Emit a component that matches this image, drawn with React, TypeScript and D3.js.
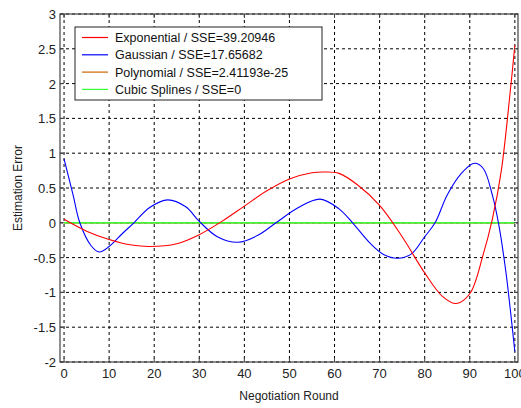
import React from "react";
import * as d3 from "d3";

const xTicks = [0, 10, 20, 30, 40, 50, 60, 70, 80, 90, 100];
const yTicks = [-2, -1.5, -1, -0.5, 0, 0.5, 1, 1.5, 2, 2.5, 3];
const yTickLabels = ["-2", "-1.5", "-1", "-0.5", "0", "0.5", "1", "1.5", "2", "2.5", "3"];

const expX = [0, 5, 10, 15, 19, 25, 30, 35, 40, 45, 50, 55, 58, 61, 65, 70, 75, 80, 84, 87, 90, 93, 95, 97, 99, 100];
const expY = [0.05, -0.12, -0.24, -0.32, -0.34, -0.3, -0.17, 0.02, 0.24, 0.46, 0.63, 0.72, 0.73, 0.71, 0.55, 0.25, -0.2, -0.72, -1.06, -1.16, -1.02, -0.45, 0.05, 0.75, 1.9, 2.55];

const gauX = [0, 2, 3.5, 6, 7.8, 10, 13, 15.5, 19, 23, 27, 30, 34, 38.6, 43, 47, 52, 56.8, 61, 64, 68, 71, 74, 77, 80, 82.3, 85, 88, 91, 93, 95, 96.5, 98, 99, 100];
const gauY = [0.92, 0.4, 0, -0.33, -0.42, -0.34, -0.15, 0, 0.22, 0.33, 0.23, 0.02, -0.2, -0.28, -0.18, 0, 0.22, 0.34, 0.2, 0, -0.3, -0.46, -0.51, -0.45, -0.2, 0, 0.4, 0.7, 0.855, 0.78, 0.4, -0.05, -0.7, -1.25, -1.85];

const polyX = [0, 100];
const polyY = [0, 0];
const splX = [0, 100];
const splY = [0, 0];

const legendLabels = [
  "Exponential / SSE=39.20946",
  "Gaussian / SSE=17.65682",
  "Polynomial / SSE=2.41193e-25",
  "Cubic Splines / SSE=0",
];
const seriesColors = ["#ff0000", "#0000ff", "#cc6600", "#33ff33"];

export default function App() {
  const W = 521, H = 408;
  const left = 60, right = 518, top = 14, bottom = 362;
  const x = d3.scaleLinear().domain([-0.9, 100.7]).range([left, right]);
  const y = d3.scaleLinear().domain([-2, 3]).range([bottom, top]);
  const line = d3
    .line<[number, number]>()
    .x((d) => x(d[0]))
    .y((d) => y(d[1]))
    .curve(d3.curveCatmullRom.alpha(0.5));
  const lineStraight = d3
    .line<[number, number]>()
    .x((d) => x(d[0]))
    .y((d) => y(d[1]));
  const zip = (a: number[], b: number[]) => a.map((v, i) => [v, b[i]] as [number, number]);
  const font = "'Liberation Sans', Arial, sans-serif";
  const dash = "3,3";
  return (
    <svg width={W} height={H} style={{ position: "absolute", left: 0, top: 0, background: "#fff" }}>
      <rect x={0} y={0} width={W} height={H} fill="#fff" />
      {/* grid */}
      {xTicks.map((t) => (
        <line key={"gx" + t} x1={x(t)} x2={x(t)} y1={top} y2={bottom} stroke="#000" strokeWidth={1} strokeDasharray={dash} />
      ))}
      {yTicks.map((t) => (
        <line key={"gy" + t} x1={left} x2={right} y1={y(t)} y2={y(t)} stroke="#000" strokeWidth={1} strokeDasharray={dash} />
      ))}
      {/* series */}
      <path d={lineStraight(zip(polyX, polyY)) || ""} fill="none" stroke={seriesColors[2]} strokeWidth={1.2} />
      <path d={lineStraight(zip(splX, splY)) || ""} fill="none" stroke={seriesColors[3]} strokeWidth={1.5} />
      <path d={line(zip(gauX, gauY)) || ""} fill="none" stroke={seriesColors[1]} strokeWidth={1.1} />
      <path d={line(zip(expX, expY)) || ""} fill="none" stroke={seriesColors[0]} strokeWidth={1.1} />
      {/* box */}
      <rect x={left} y={top} width={right - left} height={bottom - top} fill="none" stroke="#444" strokeWidth={1.2} />
      {/* ticks */}
      {xTicks.map((t) => (
        <g key={"tx" + t}>
          <line x1={x(t)} x2={x(t)} y1={bottom} y2={bottom - 4} stroke="#444" />
          <line x1={x(t)} x2={x(t)} y1={top} y2={top + 4} stroke="#444" />
          <text x={x(t)} y={378} textAnchor="middle" fontFamily={font} fontSize={13} fill="#222">
            {t}
          </text>
        </g>
      ))}
      {yTicks.map((t, i) => (
        <g key={"ty" + t}>
          <line x1={left} x2={left + 4} y1={y(t)} y2={y(t)} stroke="#444" />
          <line x1={right} x2={right - 4} y1={y(t)} y2={y(t)} stroke="#444" />
          <text x={56} y={y(t) + 5} textAnchor="end" fontFamily={font} fontSize={13} fill="#222">
            {yTickLabels[i]}
          </text>
        </g>
      ))}
      {/* axis labels */}
      <text x={(left + right) / 2} y={400} textAnchor="middle" fontFamily={font} fontSize={12} fill="#222">
        Negotiation Round
      </text>
      <text
        transform={`translate(22, ${(top + bottom) / 2}) rotate(-90)`}
        textAnchor="middle"
        fontFamily={font}
        fontSize={12}
        fill="#222"
      >
        Estimation Error
      </text>
      {/* legend */}
      <rect x={75} y={27} width={247} height={73} fill="#fff" stroke="#222" strokeWidth={1} />
      {legendLabels.map((lab, i) => {
        const ry = 37.5 + i * 17.3;
        return (
          <g key={lab}>
            <line x1={82} x2={108} y1={ry} y2={ry} stroke={seriesColors[i]} strokeWidth={1.2} />
            <text x={115} y={ry + 4.5} fontFamily={font} fontSize={12.5} fill="#111">
              {lab}
            </text>
          </g>
        );
      })}
    </svg>
  );
}
